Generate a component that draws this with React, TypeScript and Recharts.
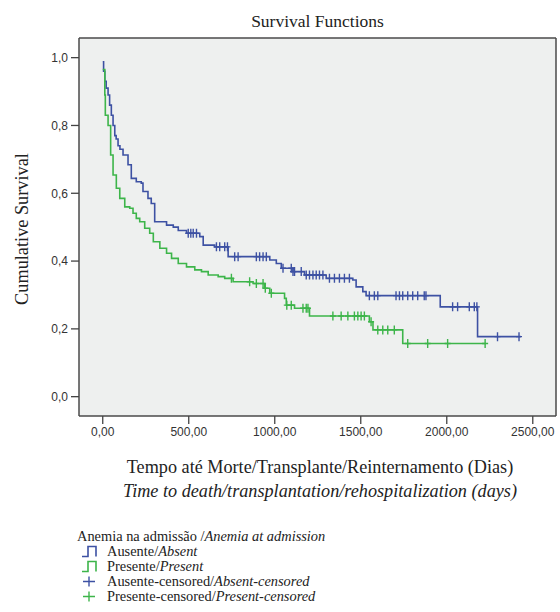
import React from 'react';
import { ComposedChart, Line, Scatter, XAxis, YAxis, CartesianGrid } from 'recharts';

// Kaplan-Meier steps: time (days) and survival after the event
const absentTimes = [0, 5, 12, 20, 31, 40, 50, 60, 70, 78, 89, 100, 118, 147, 166, 195, 224, 234, 263, 282, 302, 371, 410, 439, 487, 564, 584, 651, 729, 971, 1009, 1038, 1106, 1173, 1299, 1454, 1473, 1512, 1531, 1962, 2179, 2430];
const absentSurv = [0.988, 0.96, 0.93, 0.91, 0.89, 0.86, 0.83, 0.8, 0.77, 0.76, 0.74, 0.73, 0.713, 0.684, 0.644, 0.634, 0.63, 0.605, 0.585, 0.57, 0.516, 0.506, 0.5, 0.49, 0.482, 0.472, 0.447, 0.442, 0.413, 0.403, 0.393, 0.379, 0.369, 0.359, 0.349, 0.344, 0.324, 0.31, 0.298, 0.265, 0.177, 0.177];

const presentTimes = [0, 12, 15, 31, 46, 60, 79, 99, 128, 157, 176, 195, 215, 244, 273, 294, 332, 371, 400, 439, 487, 535, 574, 613, 671, 709, 758, 874, 941, 971, 1057, 1067, 1115, 1202, 1550, 1571, 1744, 2227];
const presentSurv = [0.965, 0.89, 0.83, 0.8, 0.713, 0.654, 0.615, 0.585, 0.56, 0.556, 0.541, 0.526, 0.516, 0.497, 0.482, 0.457, 0.438, 0.423, 0.408, 0.393, 0.383, 0.374, 0.369, 0.359, 0.354, 0.349, 0.339, 0.334, 0.32, 0.305, 0.29, 0.27, 0.261, 0.238, 0.221, 0.197, 0.157, 0.157];

// censored observations (days)
const absentCensored = [497, 512, 526, 545, 661, 680, 709, 725, 767, 787, 893, 912, 932, 951, 1048, 1096, 1106, 1115, 1154, 1183, 1202, 1222, 1241, 1260, 1280, 1318, 1347, 1376, 1405, 1434, 1550, 1579, 1599, 1705, 1725, 1744, 1773, 1802, 1831, 1869, 1879, 2034, 2063, 2131, 2160, 2175, 2295, 2420];
const presentCensored = [748, 854, 893, 932, 945, 980, 1070, 1096, 1164, 1183, 1193, 1338, 1386, 1425, 1463, 1483, 1502, 1521, 1560, 1599, 1628, 1657, 1695, 1773, 1889, 2005, 2223];

const xTicks = [0, 500, 1000, 1500, 2000, 2500];
const yTicks = [0, 0.2, 0.4, 0.6, 0.8, 1.0];

const BLUE = '#3d51a3';
const GREEN = '#3db54a';
const SERIF = '"Liberation Serif", "Times New Roman", serif';
const SANS = '"Liberation Sans", Arial, sans-serif';

const toSteps = (times: number[], surv: number[]) => times.map((t, i) => ({ t, s: surv[i] }));

// survival value at time t (value of the last step at or before t)
const survAt = (times: number[], surv: number[], t: number) => {
  let s = surv[0];
  for (let i = 0; i < times.length; i++) {
    if (times[i] <= t) s = surv[i];
  }
  return s;
};

const absentData = toSteps(absentTimes, absentSurv);
const presentData = toSteps(presentTimes, presentSurv);
const absentCens = absentCensored.map((t) => ({ t, s: survAt(absentTimes, absentSurv, t) }));
const presentCens = presentCensored.map((t) => ({ t, s: survAt(presentTimes, presentSurv, t) }));

const plusShape = (color: string) => (props: any) => {
  const { cx, cy } = props;
  if (cx == null || cy == null) return <g />;
  return (
    <path
      d={`M${cx},${cy - 4.5}V${cy + 4.5}M${cx - 3},${cy}H${cx + 3}`}
      stroke={color}
      strokeWidth={1.4}
      fill="none"
    />
  );
};

const StepIcon = ({ color }: { color: string }) => (
  <svg width={20} height={13} style={{ display: 'block' }}>
    <path d="M2,11.5H8V1.5H16V11.5" stroke={color} strokeWidth={1.6} fill="none" />
  </svg>
);

const PlusIcon = ({ color }: { color: string }) => (
  <svg width={20} height={13} style={{ display: 'block' }}>
    <path d="M9,1.5V11.5M3,6.5H15" stroke={color} strokeWidth={1.4} fill="none" />
  </svg>
);

const legendRows = [
  { icon: <StepIcon color={BLUE} />, pt: 'Ausente/', en: 'Absent' },
  { icon: <StepIcon color={GREEN} />, pt: 'Presente/', en: 'Present' },
  { icon: <PlusIcon color={BLUE} />, pt: 'Ausente-censored/', en: 'Absent-censored' },
  { icon: <PlusIcon color={GREEN} />, pt: 'Presente-censored/', en: 'Present-censored' },
];

const App: React.FC = () => {
  return (
    <div style={{ position: 'absolute', left: 0, top: 0, width: 560, height: 612, background: '#fff', overflow: 'hidden' }}>
      {/* Title */}
      <div style={{ position: 'absolute', left: 79, width: 477, top: 10, textAlign: 'center', fontFamily: SERIF, fontSize: 17.5, color: '#222', lineHeight: '22px' }}>
        Survival Functions
      </div>

      {/* Y axis label */}
      <div
        style={{
          position: 'absolute',
          left: 22,
          top: 229,
          transform: 'translate(-50%, -50%) rotate(-90deg)',
          whiteSpace: 'nowrap',
          fontFamily: SERIF,
          fontSize: 18.3,
          color: '#222',
        }}
      >
        Cumulative Survival
      </div>

      <ComposedChart width={560} height={445} margin={{ top: 38, right: 4, bottom: 0, left: 0 }}>
        <CartesianGrid
          fill="#eef0ef"
          fillOpacity={1}
          stroke="#4a4a4a"
          strokeWidth={1.5}
          horizontalPoints={[38, 416]}
          verticalPoints={[79, 556]}
        />
        <XAxis
          dataKey="t"
          type="number"
          domain={[-138, 2635]}
          ticks={xTicks}
          allowDataOverflow
          axisLine={false}
          tickSize={8}
          tickMargin={3}
          height={29}
          tickLine={{ stroke: '#444', strokeWidth: 1.3 }}
          tick={{ fontSize: 12, fill: '#333', fontFamily: SANS }}
          tickFormatter={(v: number) => v.toFixed(2).replace('.', ',')}
        />
        <YAxis
          dataKey="s"
          type="number"
          domain={[-0.057, 1.058]}
          ticks={yTicks}
          allowDataOverflow
          axisLine={false}
          width={79}
          tickSize={8}
          tickMargin={3}
          tickLine={{ stroke: '#444', strokeWidth: 1.3 }}
          tick={{ fontSize: 12, fill: '#333', fontFamily: SANS }}
          tickFormatter={(v: number) => v.toFixed(1).replace('.', ',')}
        />
        <Line data={absentData} dataKey="s" type="stepAfter" stroke={BLUE} strokeWidth={1.6} dot={false} isAnimationActive={false} />
        <Line data={presentData} dataKey="s" type="stepAfter" stroke={GREEN} strokeWidth={1.6} dot={false} isAnimationActive={false} />
        <Scatter data={absentCens} dataKey="s" shape={plusShape(BLUE)} isAnimationActive={false} />
        <Scatter data={presentCens} dataKey="s" shape={plusShape(GREEN)} isAnimationActive={false} />
      </ComposedChart>

      {/* X axis label */}
      <div style={{ position: 'absolute', left: 79, width: 482, top: 455, textAlign: 'center', fontFamily: SERIF, fontSize: 18.2, color: '#222', lineHeight: '24px' }}>
        <div>Tempo até Morte/Transplante/Reinternamento (Dias)</div>
        <div style={{ fontStyle: 'italic' }}>Time to death/transplantation/rehospitalization (days)</div>
      </div>

      {/* Legend */}
      <div style={{ position: 'absolute', left: 77, top: 529, fontFamily: SERIF, fontSize: 14.4, color: '#222', lineHeight: '14.9px' }}>
        <div>
          Anemia na admissão /<i>Anemia at admission</i>
        </div>
        {legendRows.map((r) => (
          <div key={r.pt} style={{ display: 'flex', alignItems: 'center', marginLeft: 3 }}>
            {r.icon}
            <span style={{ marginLeft: 7 }}>
              {r.pt}
              <i>{r.en}</i>
            </span>
          </div>
        ))}
      </div>
    </div>
  );
};

export default App;
